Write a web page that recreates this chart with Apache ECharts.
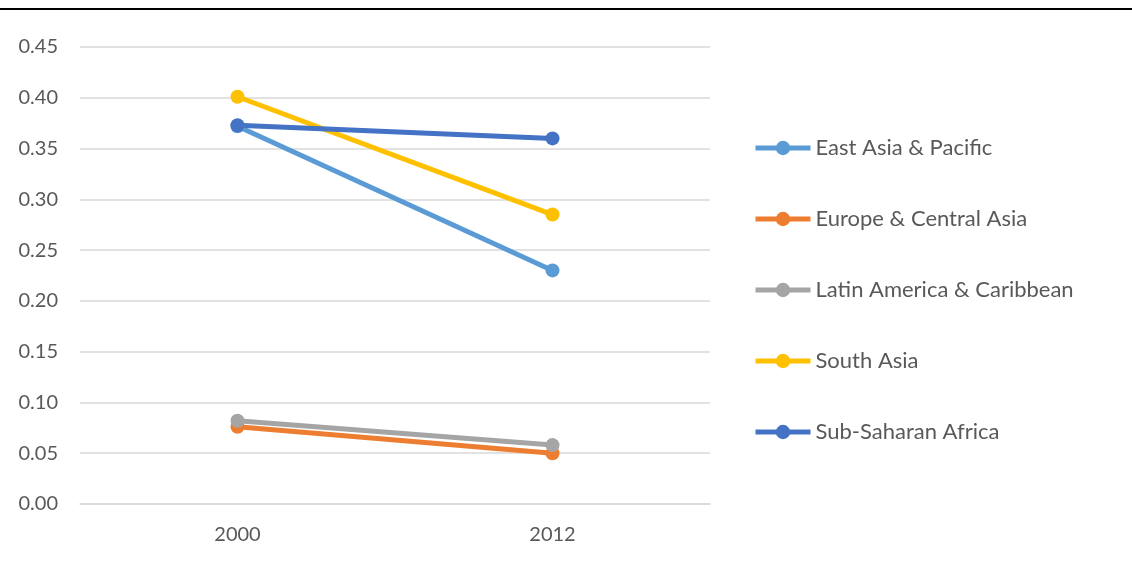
<!DOCTYPE html>
<html>
<head>
<meta charset="utf-8">
<script src="https://cdn.jsdelivr.net/npm/echarts@6/dist/echarts.min.js"></script>
<style>
  html, body { margin: 0; padding: 0; background: #fff; }
  #rule { position: absolute; left: 0; top: 8px; width: 1132px; height: 0; border-top: 2px solid #000; }
  #chart { width: 1132px; height: 570px; }
</style>
</head>
<body>
<div id="rule"></div>
<div id="chart"></div>
<script>
// data
const years = ['2000', '2012']
const eastAsiaPacific = [0.372, 0.230]
const europeCentralAsia = [0.076, 0.050]
const latinAmericaCaribbean = [0.082, 0.058]
const southAsia = [0.401, 0.285]
const subSaharanAfrica = [0.373, 0.360]

const seriesNames = ['East Asia & Pacific', 'Europe & Central Asia', 'Latin America & Caribbean', 'South Asia', 'Sub-Saharan Africa']
const seriesValues = [eastAsiaPacific, europeCentralAsia, latinAmericaCaribbean, southAsia, subSaharanAfrica]
const colors = ['#5B9BD5', '#ED7D31', '#A5A5A5', '#FFC000', '#4472C4']

const font = 'Lato, "Open Sans", sans-serif'
const textColor = '#595959'

const chart = echarts.init(document.getElementById('chart'))

chart.setOption({
  animation: false,
  color: colors,
  textStyle: { fontFamily: font },
  grid: { left: 80, right: 422, top: 47, bottom: 66 },
  legend: {
    orient: 'vertical',
    left: 753,
    top: 137,
    padding: 0,
    itemWidth: 55,
    itemHeight: 18,
    itemGap: 49,
    lineStyle: { width: 5 },
    textStyle: { color: textColor, fontSize: 22, lineHeight: 20, fontFamily: font },
    data: seriesNames
  },
  xAxis: {
    type: 'category',
    data: years,
    boundaryGap: true,
    axisLine: { show: true, lineStyle: { color: '#d9d9d9', width: 1.5 } },
    axisTick: { show: false },
    axisLabel: { color: textColor, fontSize: 20, margin: 21 }
  },
  yAxis: {
    type: 'value',
    min: 0,
    max: 0.45,
    interval: 0.05,
    axisLine: { show: false },
    axisTick: { show: false },
    axisLabel: {
      color: textColor,
      fontSize: 20,
      margin: 22,
      formatter: v => v.toFixed(2)
    },
    splitLine: { lineStyle: { color: '#d9d9d9', width: 1.5 } }
  },
  series: seriesNames.map((name, i) => ({
    name,
    type: 'line',
    data: seriesValues[i],
    symbol: 'circle',
    symbolSize: 14,
    lineStyle: { width: 5 },
    itemStyle: { color: colors[i] }
  }))
})
</script>
</body>
</html>
